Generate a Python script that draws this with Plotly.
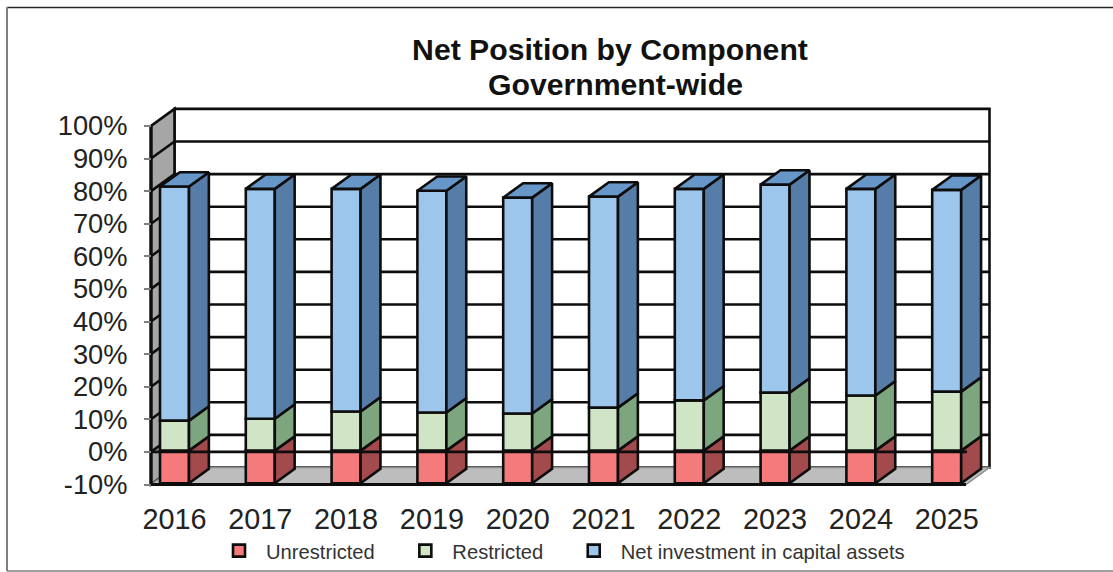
import plotly.graph_objects as go

# ---- data ----
years = ["2016", "2017", "2018", "2019", "2020", "2021", "2022", "2023", "2024", "2025"]
unrestricted = [-10, -10, -10, -10, -10, -10, -10, -10, -10, -10]
restricted = [9.2, 9.8, 12.0, 11.7, 11.4, 13.2, 15.4, 17.8, 16.9, 18.1]
net_investment = [71.8, 70.5, 68.3, 68.0, 66.2, 64.7, 64.9, 63.8, 63.4, 61.9]
y_ticks = [-10, 0, 10, 20, 30, 40, 50, 60, 70, 80, 90, 100]
y_tick_labels = ["-10%", "0%", "10%", "20%", "30%", "40%", "50%", "60%", "70%", "80%", "90%", "100%"]

# ---- geometry of the oblique 3-D projection, in axis units ----
W, H = 1113, 572
PX_PER_CAT = 85.8
PX_PER_PCT = 3.26
X0_PX, Y0_PX = 174.5, 484.5      # pixel of category 0 / of -10 %
DX = 23.5 / PX_PER_CAT           # wall depth, x
DY = 17.0 / PX_PER_PCT           # wall depth, y
X_LEFT = -23.5 / PX_PER_CAT
X_RIGHT = 791.5 / PX_PER_CAT
BAR_W = 29 / PX_PER_CAT
Z0, Z1 = 0.075, 0.92             # bar depth span as fraction of wall depth
LIFT = Z0 * DY
BDX = (Z1 - Z0) * DX
BDY = (Z1 - Z0) * DY

BLACK = "#0d0d0d"
LW = 2.6
idx = list(range(len(years)))
PAD = "\u00a0\u00a0\u00a0\u200a"


def close(pts):
    return [p[0] for p in pts] + [pts[0][0]], [p[1] for p in pts] + [pts[0][1]]


def path(pts):
    return "M" + " L".join(f"{x:.4f},{y:.3f}" for x, y in pts) + " Z"


def poly_trace(polys, fill, name):
    xs, ys = [], []
    for p in polys:
        a, b = close(p)
        xs += a + [None]
        ys += b + [None]
    return go.Scatter(x=xs, y=ys, mode="lines", fill="toself", fillcolor=fill,
                      line=dict(color=BLACK, width=LW), showlegend=False,
                      hoverinfo="skip", name=name)


fig = go.Figure()

# stacked levels
low = [v + LIFT for v in unrestricted]
zero = [LIFT] * len(years)
mid = [LIFT + r for r in restricted]
top = [LIFT + r + n for r, n in zip(restricted, net_investment)]

# front faces (native bars carry the legend)
fig.add_trace(go.Bar(name="Unrestricted" + PAD, x=idx, y=unrestricted, base=zero, width=BAR_W,
                     marker=dict(color="#F47A7C", line=dict(color=BLACK, width=LW))))
fig.add_trace(go.Bar(name="Restricted" + PAD, x=idx, y=restricted, base=zero, width=BAR_W,
                     marker=dict(color="#CFE5C5", line=dict(color=BLACK, width=LW))))
fig.add_trace(go.Bar(name="Net investment in capital assets", x=idx, y=net_investment, base=mid, width=BAR_W,
                     marker=dict(color="#9DC6EC", line=dict(color=BLACK, width=LW))))


def side(i, a, b):
    x = i + BAR_W / 2
    return [(x, a), (x + BDX, a + BDY), (x + BDX, b + BDY), (x, b)]


fig.add_trace(poly_trace([side(i, low[i], zero[i]) for i in idx], "#A24A4C", "Unrestricted side"))
fig.add_trace(poly_trace([side(i, zero[i], mid[i]) for i in idx], "#7DA57E", "Restricted side"))
fig.add_trace(poly_trace([side(i, mid[i], top[i]) for i in idx], "#567DA8", "Net investment side"))
fig.add_trace(poly_trace(
    [[(i - BAR_W / 2, top[i]), (i + BAR_W / 2, top[i]),
      (i + BAR_W / 2 + BDX, top[i] + BDY), (i - BAR_W / 2 + BDX, top[i] + BDY)] for i in idx],
    "#6796C8", "Net investment top"))

# front zero line, over the bars
fig.add_trace(go.Scatter(x=[X_LEFT, X_RIGHT + 1 / PX_PER_CAT], y=[0, 0], mode="lines",
                         line=dict(color=BLACK, width=LW), showlegend=False, hoverinfo="skip"))

# walls, floor and gridlines sit beneath the bars
ymin, ymax = y_ticks[0], y_ticks[-1]
line = dict(color=BLACK, width=LW)
shapes = [
    dict(type="path", layer="below", xref="x", yref="y", fillcolor="white", line=line,
         path=path([(X_LEFT + DX, ymin + DY), (X_RIGHT + DX, ymin + DY),
                    (X_RIGHT + DX, ymax + DY), (X_LEFT + DX, ymax + DY)])),
    dict(type="path", layer="below", xref="x", yref="y", fillcolor="#A6A6A6", line=line,
         path=path([(X_LEFT, ymin), (X_LEFT + DX, ymin + DY), (X_LEFT + DX, ymax + DY), (X_LEFT, ymax)])),
    dict(type="path", layer="below", xref="x", yref="y", fillcolor="#BDBDBD",
         line=dict(color="#8c8c8c", width=1.5),
         path=path([(X_LEFT, ymin), (X_RIGHT, ymin), (X_RIGHT + DX, ymin + DY), (X_LEFT + DX, ymin + DY)])),
]
for t in y_ticks[1:-1]:
    shapes.append(dict(type="path", layer="below", xref="x", yref="y", line=line,
                       path="M" + " L".join(f"{x:.4f},{y:.3f}" for x, y in
                                            [(X_LEFT, t), (X_LEFT + DX, t + DY), (X_RIGHT + DX, t + DY)])))
# front axis edges
shapes.append(dict(type="line", layer="below", xref="x", yref="y", x0=X_LEFT, x1=X_LEFT, y0=ymin, y1=ymax,
                   line=dict(color=BLACK, width=3.2)))
shapes.append(dict(type="line", layer="below", xref="x", yref="y", x0=X_LEFT, x1=X_RIGHT, y0=ymin, y1=ymin,
                   line=dict(color=BLACK, width=3.2)))
# picture frame
shapes += [
    dict(type="line", xref="paper", yref="paper", x0=7 / W, x1=1, y0=1 - 7.5 / H, y1=1 - 7.5 / H,
         line=dict(color="#262626", width=1.5)),
    dict(type="line", xref="paper", yref="paper", x0=7 / W, x1=7 / W, y0=1 / H, y1=1 - 7 / H,
         line=dict(color="#808080", width=2)),
    dict(type="line", xref="paper", yref="paper", x0=7 / W, x1=1, y0=1 / H, y1=1 / H,
         line=dict(color="#808080", width=1.5)),
]

fig.update_layout(
    width=W, height=H,
    margin=dict(l=0, r=0, t=0, b=0),
    paper_bgcolor="white", plot_bgcolor="rgba(0,0,0,0)",
    barmode="overlay",
    shapes=shapes,
    font=dict(family="Liberation Sans, Arial, sans-serif", color="#111111"),
    title=dict(text="<b>Net Position by Component</b>",
               x=610 / W, xanchor="center", y=1 - 49 / H, yanchor="middle",
               font=dict(size=30.2, color="#111111")),
    annotations=[dict(text="<b>Government-wide</b>", xref="paper", yref="paper",
                      x=615 / W, xanchor="center", y=1 - 84.5 / H, yanchor="middle", showarrow=False,
                      font=dict(size=30.2, color="#111111"))],
    legend=dict(orientation="h", x=212 / W, xanchor="left", y=1 - 551 / H, yanchor="middle",
                font=dict(size=20.2, color="#333333"), itemwidth=44, bgcolor="rgba(0,0,0,0)",
                traceorder="normal"),
    xaxis=dict(range=[-X0_PX / PX_PER_CAT, (W - X0_PX) / PX_PER_CAT],
               tickmode="array", tickvals=idx, ticktext=years, showgrid=False, zeroline=False,
               showline=False, ticks="", anchor="free", position=(H - Y0_PX) / H,
               tickfont=dict(size=28.8, color="#222222"), ticklabelstandoff=15),
    yaxis=dict(range=[ymin - (H - Y0_PX) / PX_PER_PCT, ymin + Y0_PX / PX_PER_PCT],
               tickmode="array", tickvals=y_ticks, ticktext=y_tick_labels, showgrid=False, zeroline=False,
               showline=False, ticks="outside", ticklen=7, tickwidth=1.5, tickcolor="#808080",
               anchor="free", position=151 / W, ticklabelstandoff=11,
               tickfont=dict(size=27.3, color="#222222")),
)

fig.write_html("out.html", config={"displayModeBar": False},
               post_script="document.body.style.margin='0';document.body.style.overflow='hidden';")
